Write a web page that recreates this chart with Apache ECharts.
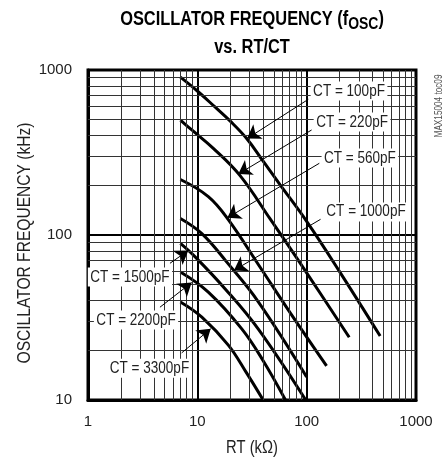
<!DOCTYPE html>
<html><head><meta charset="utf-8">
<script src="https://cdn.jsdelivr.net/npm/echarts@6/dist/echarts.min.js"></script>
<style>html,body{margin:0;padding:0;background:#fff}#c{width:445px;height:459px}</style>
</head><body><div id="c"></div>
<script>
// ---- tick / grid values ----
const xTicks = [1, 10, 100, 1000];
const yTicks = [10, 100, 1000];
const xMinorGrid = [2,3,4,5,6,7,8,9,20,30,40,50,60,70,80,90,200,300,400,500,600,700,800,900];
const yMinorGrid = [20,30,40,50,60,70,80,90,200,300,400,500,600,700,800,900];

// ---- curves: [RT (kOhm), fosc (kHz)] ----
const ct100  = [[7,905],[10,746],[14.5,597],[20,490],[28.5,382],[40,280],[57,202],[100,121],[200,60],[470,24.4]];
const ct220  = [[7,497],[8.9,433],[14,335],[24.6,229],[46,126],[100,59],[245,24]];
const ct560  = [[7,217],[12.6,171],[19.2,124],[37.4,64],[70,34.1],[152,16.1]];
const ct1000 = [[7,126],[11,102],[18.6,68.5],[36,39.5],[100,13.8]];
const ct1500 = [[7,89],[9.5,74],[17.9,47.3],[36,27],[98,10]];
const ct2200 = [[7,59.7],[12.6,45.1],[25.5,27],[40,17.3],[64,10]];
const ct3300 = [[7,39.3],[11,31.8],[19.2,21.5],[28,14.7],[40,10]];

const curveNames = ['CT = 100pF','CT = 220pF','CT = 560pF','CT = 1000pF','CT = 1500pF','CT = 2200pF','CT = 3300pF'];
const curves = [ct100, ct220, ct560, ct1000, ct1500, ct2200, ct3300];

// annotation label anchors and arrows (data coordinates)
const labelPos  = [[244,746],[260,484],[307,293],[349,138],[2.42,55.6],[2.75,30.5],[3.65,15.6]];
const arrowFrom = [[103.5,664],[111,433],[130.5,272],[134,124.5],[5.62,67.4],[4.55,36.5],[7.19,19.3]];
const arrowTo   = [[28.5,384],[23.7,234],[18.8,127],[21.6,61],[8.27,80.5],[8.88,51.5],[13.25,27]];

const FONT = "'Liberation Sans',Arial,sans-serif";
const NARROW = 0.82;
const G = {left: 88, top: 70, width: 328, height: 330};

const chart = echarts.init(document.getElementById('c'), null, {renderer: 'canvas'});
const fmt = v => String(Math.round(v));

const series = [];
series.push({
  type: 'line', data: [[1,10]], symbol: 'none', lineStyle: {width: 0}, z: 1, silent: true,
  markLine: {
    silent: true, symbol: ['none','none'], label: {show: false}, animation: false,
    lineStyle: {color: '#333', width: 1, type: 'solid'},
    data: xMinorGrid.map(v => ({xAxis: v})).concat(yMinorGrid.map(v => ({yAxis: v})))
  }
});
curves.forEach((d, i) => series.push({
  type: 'line', name: curveNames[i], data: d, symbol: 'none', smooth: 0.4, z: 3,
  lineStyle: {color: '#000', width: 3}
}));
series.push({
  type: 'lines', coordinateSystem: 'cartesian2d', z: 6, silent: true,
  symbol: ['none', 'arrow'], symbolSize: [7, 13],
  lineStyle: {color: '#000', width: 1, opacity: 1},
  data: arrowFrom.map((a, i) => ({coords: [a, arrowTo[i]]}))
});

chart.setOption({
  animation: false,
  grid: {left: G.left, top: G.top, width: G.width, height: G.height, show: true,
         borderColor: '#000', borderWidth: 3, backgroundColor: 'transparent'},
  xAxis: {
    type: 'log', logBase: 10, min: xTicks[0], max: xTicks[xTicks.length-1],
    axisLine: {show: true, lineStyle: {color: '#000', width: 3}},
    axisTick: {show: false},
    axisLabel: {formatter: fmt, margin: 14, fontSize: 15, fontFamily: FONT, color: '#222'},
    splitLine: {show: true, lineStyle: {color: '#000', width: 2}}
  },
  yAxis: {
    type: 'log', logBase: 10, min: yTicks[0], max: yTicks[yTicks.length-1],
    axisLine: {show: true, lineStyle: {color: '#000', width: 3}},
    axisTick: {show: false},
    axisLabel: {formatter: fmt, margin: 16, fontSize: 15, fontFamily: FONT, color: '#222'},
    splitLine: {show: true, lineStyle: {color: '#000', width: 2}}
  },
  series: series
});

// text elements (condensed look via horizontal scaling); label anchors go through the axes
const cx = G.left + G.width / 2;
const graphics = [
  {type: 'text', x: cx, y: 21, z: 10, scaleX: NARROW,
   style: {text: '{a|OSCILLATOR FREQUENCY (f}{b|OSC}{a|)}', align: 'center', verticalAlign: 'middle',
     rich: {a: {fontSize: 20, fontWeight: 'bold', fontFamily: FONT, fill: '#000', color: '#000', verticalAlign: 'top'},
            b: {fontSize: 17, fontWeight: 'bold', fontFamily: FONT, fill: '#000', color: '#000', padding: [7,0,0,0], verticalAlign: 'bottom'}}}},
  {type: 'text', x: cx, y: 47, z: 10, scaleX: NARROW,
   style: {text: 'vs. RT/CT', align: 'center', verticalAlign: 'middle', fontSize: 20, fontWeight: 'bold', fontFamily: FONT, fill: '#000'}},
  {type: 'text', x: 439, y: 106, rotation: Math.PI/2, z: 10, scaleX: NARROW,
   style: {text: 'MAX15004 toc09', align: 'center', verticalAlign: 'middle', fontSize: 10, fontFamily: FONT, fill: '#555'}},
  {type: 'text', x: cx, y: 448, z: 10, scaleX: NARROW,
   style: {text: 'RT (kΩ)', align: 'center', verticalAlign: 'middle', fontSize: 18, fontFamily: FONT, fill: '#222'}},
  {type: 'text', x: 25, y: 243, rotation: Math.PI/2, z: 10, scaleX: NARROW,
   style: {text: 'OSCILLATOR FREQUENCY (kHz)', align: 'center', verticalAlign: 'middle', fontSize: 19, fontFamily: FONT, fill: '#222'}}
];
curveNames.forEach((n, i) => {
  const p = chart.convertToPixel({gridIndex: 0}, labelPos[i]);
  graphics.push({type: 'text', x: p[0], y: p[1], z: 5, scaleX: NARROW,
    style: {text: n, align: 'center', verticalAlign: 'middle', fontSize: 16.5, fontFamily: FONT,
            fill: '#222', backgroundColor: '#fff', padding: [1, 3]}});
});
chart.setOption({graphic: graphics});
</script>
</body></html>
